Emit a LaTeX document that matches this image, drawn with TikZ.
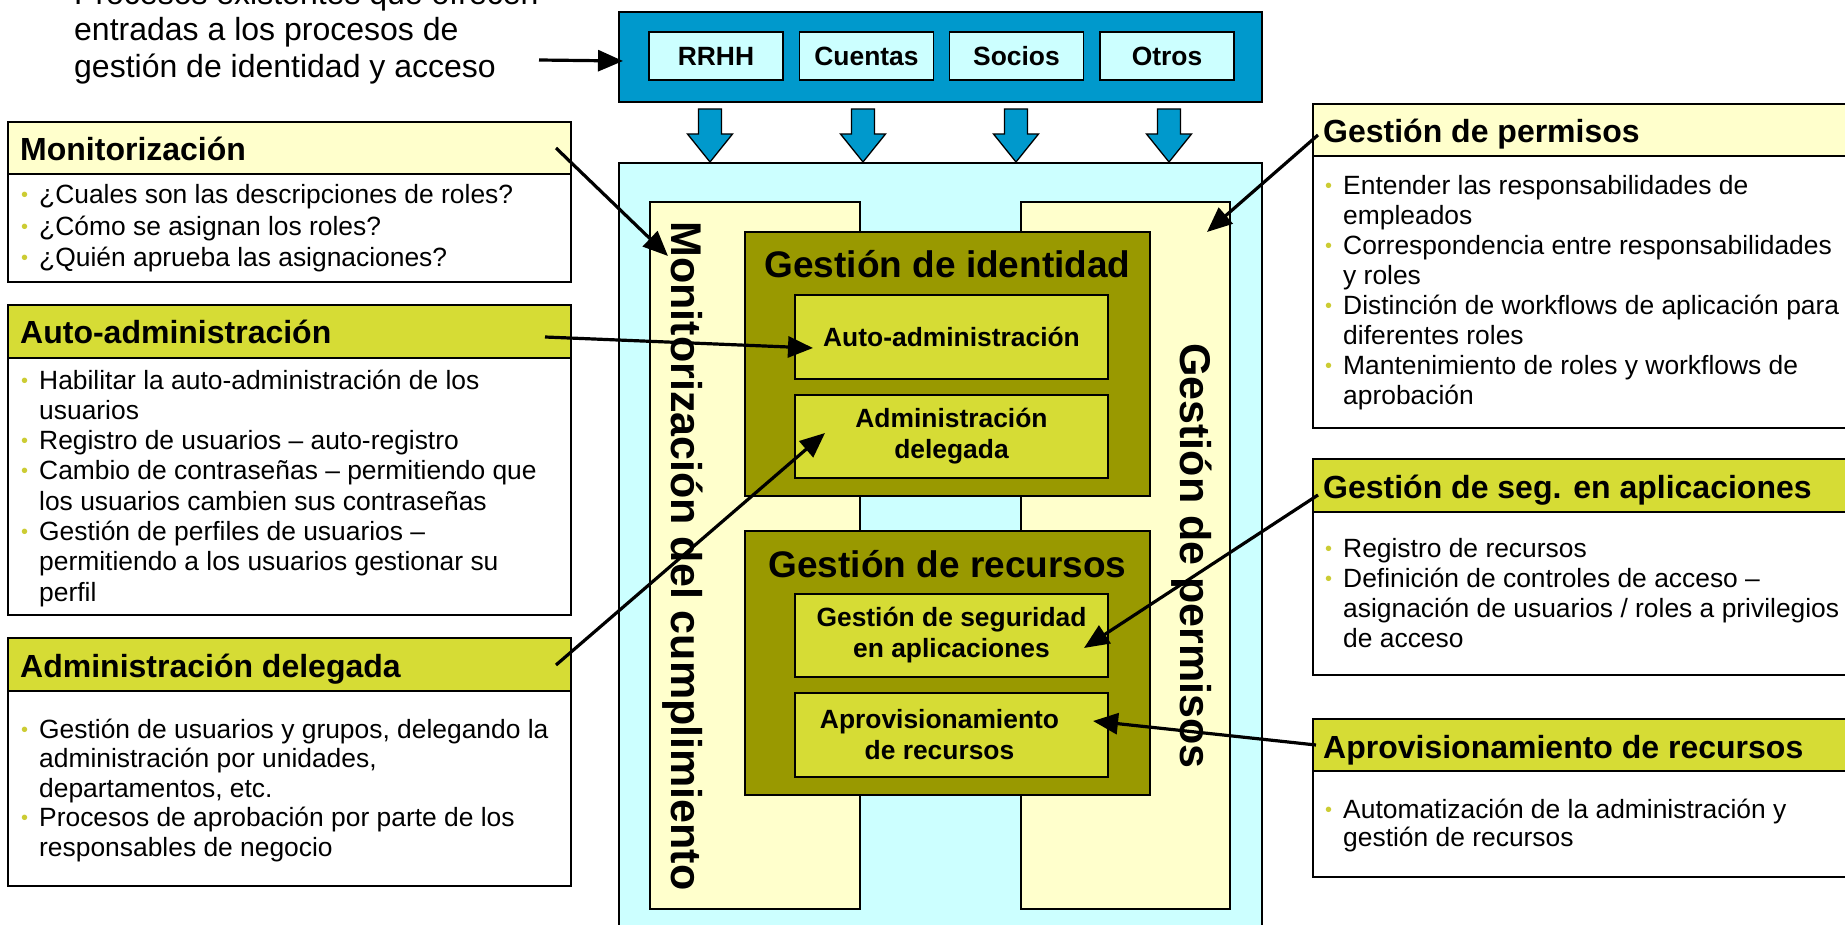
\documentclass[tikz,border=0pt]{standalone}
\usepackage{fontspec}
\setmainfont{Liberation Sans}
\usetikzlibrary{arrows.meta,calc}
\definecolor{bluebox}{HTML}{0099CC}
\definecolor{cyanlt}{HTML}{CCFFFF}
\definecolor{ylt}{HTML}{FFFFCC}
\definecolor{olivebox}{HTML}{999900}
\definecolor{ygreen}{HTML}{D6DC35}
\definecolor{bulc}{HTML}{CCCC33}
\newcommand\bul{\leavevmode\llap{\textcolor{bulc}{\fontsize{20}{20}\selectfont\raisebox{2pt}{•}}\hspace{11pt}}}
\newcommand\infotext[2]{\parbox[t]{560pt}{\fontsize{26.4}{#1}\selectfont #2}}
\begin{document}
\begin{tikzpicture}[x=1pt,y=-1pt,
  rbox/.style={draw=black,line width=1.3pt,inner sep=0pt,outer sep=0pt},
  conn/.style={line width=3.2pt,-{Triangle[length=25pt,width=21pt]}},
  hdr/.style={anchor=base west,inner sep=0pt,font=\fontsize{32}{38}\selectfont\bfseries},
  bodyt/.style={anchor=base west,inner sep=0pt},
  btxt/.style={font=\fontsize{26.4}{31}\selectfont\bfseries,align=center,inner sep=0pt},
  vtext/.style={rotate=-90,font=\fontsize{43}{48}\selectfont\bfseries,inner sep=0pt},
  ttl/.style={font=\fontsize{37}{44}\selectfont\bfseries,anchor=base,inner sep=0pt},
  introt/.style={font=\fontsize{32}{38}\selectfont,anchor=base west,inner sep=0pt},
  darr/.style={fill=bluebox,draw=black,line width=1.3pt},
  srcbox/.style={rbox,fill=cyanlt,minimum width=134pt,minimum height=48pt,font=\fontsize{26.4}{30}\selectfont\bfseries},
  lbox/.style={rbox,minimum width=563pt},
  rbx/.style={rbox,minimum width=547pt},
  inbox/.style={rbox,btxt,fill=ygreen,minimum width=313pt},
]
\useasboundingbox (0,0) rectangle (1845,925);
\clip (0,0) rectangle (1845,925);

% central structure
\node[rbox,fill=cyanlt,minimum width=643pt,minimum height=772pt] (cyan) at (940.5,549) {};
\node[rbox,fill=ylt,minimum width=210pt,minimum height=707pt] (lcol) at (755,555.5) {};
\node[rbox,fill=ylt,minimum width=209pt,minimum height=707pt] (rcol) at (1125.5,555.5) {};
\node[vtext] (vmon) at (683,556) {Monitorización del cumplimiento};
\node[vtext] (vper) at (1192,556) {Gestión de permisos};
\node[rbox,fill=olivebox,minimum width=405pt,minimum height=264pt] (ident) at (947.5,364) {};
\node[rbox,fill=olivebox,minimum width=405pt,minimum height=264pt] (recur) at (947.5,663) {};
\node[ttl] (identt) at ($(ident.north)+(0,46)$) {Gestión de identidad};
\node[ttl] (recurt) at ($(recur.north)+(0,46)$) {Gestión de recursos};
\node[inbox,minimum height=84pt] (aa) at (951.5,337) {Auto-administración};
\node[inbox,minimum height=83pt] (ad) at (951.5,436.5) {Administración\\delegada};
\node[inbox,minimum height=83pt] (gs) at (951.5,635.5) {Gestión de seguridad\\en aplicaciones};
\node[inbox,minimum height=84pt] (ap) at (951.5,735) {};
\node[btxt] (apt) at ($(ap.center)+(-12,0)$) {Aprovisionamiento\\de recursos};

% input sources
\node[rbox,fill=bluebox,minimum width=643pt,minimum height=90pt] (blue) at (940.5,57) {};
\node[srcbox] (rrhh) at (716,56) {RRHH};
\node[srcbox] (cuentas) at (866.5,56) {Cuentas};
\node[srcbox] (socios) at (1016.5,56) {Socios};
\node[srcbox] (otros) at (1167,56) {Otros};
\foreach \c in {710,863,1016,1169}{
  \draw[darr] (\c-11.5,109) -- (\c+11.5,109) -- (\c+11.5,134) -- (\c+22.5,134)
    -- (\c,162) -- (\c-22.5,134) -- (\c-11.5,134) -- cycle;
}

% intro text
\node[introt] (intro1) at (74,5) {Procesos existentes que ofrecen};
\node[introt] (intro2) at (74,41) {entradas a los procesos de};
\node[introt] (intro3) at (74,78) {gestión de identidad y acceso};
\coordinate (introarr) at (539,60);

% left info boxes
\node[lbox,fill=white,minimum height=160pt] (monb) at (289.5,202) {};
\node[lbox,fill=ylt,minimum height=52pt] (monh) at (289.5,148) {};
\node[hdr] (monht) at ($(monh.west)+(12,13)$) {Monitorización};
\node[bodyt] (monbt) at (39,204) {\infotext{31.5}{\bul ¿Cuales son las descripciones de roles?\\\bul ¿Cómo se asignan los roles?\\\bul ¿Quién aprueba las asignaciones?}};

\node[lbox,fill=white,minimum height=310pt] (autb) at (289.5,460) {};
\node[lbox,fill=ygreen,minimum height=53pt] (auth) at (289.5,331.5) {};
\node[hdr] (autht) at ($(auth.west)+(12,12)$) {Auto-administración};
\node[bodyt] (autbt) at (39,389) {\infotext{30.3}{\bul Habilitar la auto-administración de los\\usuarios\\\bul Registro de usuarios – auto-registro\\\bul Cambio de contraseñas – permitiendo que\\los usuarios cambien sus contraseñas\\\bul Gestión de perfiles de usuarios –\\permitiendo a los usuarios gestionar su\\perfil}};

\node[lbox,fill=white,minimum height=248pt] (admb) at (289.5,762) {};
\node[lbox,fill=ygreen,minimum height=53pt] (admh) at (289.5,664.5) {};
\node[hdr] (admht) at ($(admh.west)+(12,12.5)$) {Administración delegada};
\node[bodyt] (admbt) at (39,738) {\infotext{29.5}{\bul Gestión de usuarios y grupos, delegando la\\administración por unidades,\\departamentos, etc.\\\bul Procesos de aprobación por parte de los\\responsables de negocio}};

% right info boxes
\node[rbx,fill=white,minimum height=324pt] (perb) at (1586.5,266) {};
\node[rbx,fill=ylt,minimum height=52pt] (perh) at (1586.5,130) {};
\node[hdr] (perht) at ($(perh.west)+(10,13)$) {Gestión de permisos};
\node[bodyt] (perbt) at (1343,195) {\infotext{30}{\bul Entender las responsabilidades de\\empleados\\\bul Correspondencia entre responsabilidades\\y roles\\\bul Distinción de workflows de aplicación para\\diferentes roles\\\bul Mantenimiento de roles y workflows de\\aprobación}};

\node[rbx,fill=white,minimum height=216pt] (segb) at (1586.5,567) {};
\node[rbx,fill=ygreen,minimum height=53pt] (segh) at (1586.5,485.5) {};
\node[hdr] (seght) at ($(segh.west)+(10,13)$) {Gestión de seg. en aplicaciones};
\node[bodyt] (segbt) at (1343,557) {\infotext{30}{\bul Registro de recursos\\\bul Definición de controles de acceso –\\asignación de usuarios / roles a privilegios\\de acceso}};

\node[rbx,fill=white,minimum height=158pt] (aprb) at (1586.5,798) {};
\node[rbx,fill=ygreen,minimum height=52pt] (aprh) at (1586.5,745) {};
\node[hdr] (aprht) at ($(aprh.west)+(10,13)$) {Aprovisionamiento de recursos};
\node[bodyt] (aprbt) at (1343,818) {\infotext{28.5}{\bul Automatización de la administración y\\gestión de recursos}};

% connectors
\draw[conn] (introarr) -- ($(blue.west)+(4,4)$);
\draw[conn] ($(monh.east)+(-15,0)$) -- ($(lcol.north west)+(18,54)$);
\draw[conn] ($(auth.east)+(-26,5.5)$) -- ($(aa.west)+(18,11)$);
\draw[conn] ($(admh.east)+(-15,0.5)$) -- ($(ad.west)+(30,-3.5)$);
\draw[conn] ($(perh.west)+(5,5)$) -- ($(rcol.north east)+(-23,30)$);
\draw[conn] ($(segh.west)+(5,9.5)$) -- ($(gs.east)+(-24,12.5)$);
\draw[conn] ($(aprh.west)+(3,0)$) -- ($(ap.east)+(-15,-14)$);
\end{tikzpicture}
\end{document}
